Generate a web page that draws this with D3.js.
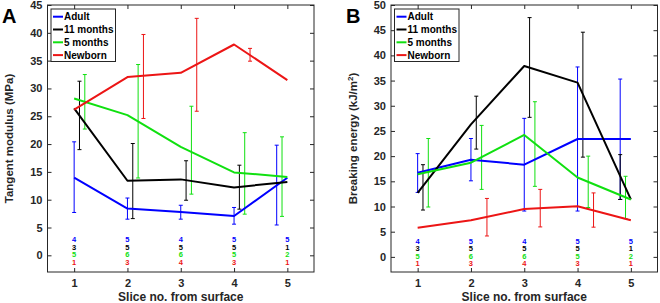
<!DOCTYPE html>
<html>
<head>
<meta charset="utf-8">
<script src="https://cdn.jsdelivr.net/npm/d3@7/dist/d3.min.js"></script>
<style>
  body { margin: 0; background: #fff; }
  svg text { font-family: "Liberation Sans", Arial, sans-serif; font-weight: bold; }
</style>
</head>
<body>
<svg id="chart" width="660" height="303"></svg>
<script>
"use strict"

// ---- data ----
const slices = [1, 2, 3, 4, 5];
const groups = ["Adult", "11 months", "5 months", "Newborn"];
const groupColors = ["#0000ff", "#000000", "#10e010", "#ec1515"];

// sample sizes per slice (same for both panels)
const nAdult = [4, 5, 4, 5, 5];
const n11 = [3, 5, 5, 5, 1];
const n5 = [5, 6, 6, 5, 2];
const nNew = [1, 3, 4, 3, 1];

// panel A: tangent modulus (MPa)
const modAdult = [13.95, 8.4, 7.8, 7.07, 13.95];
const mod11 = [26.4, 13.4, 13.65, 12.2, 13.2];
const mod5 = [28.2, 25.2, 19.5, 14.9, 14.1];
const modNew = [26.2, 32.05, 32.8, 37.9, 31.5];
// error bars: [slice position, low, high]
const modAdultErr = [[1, 7.7, 20.4], [2, 6.5, 10.3], [3, 6.5, 9.0], [4, 5.6, 8.6], [4.8, 5.45, 19.8]];
const mod11Err = [[1.1, 19.0, 31.3], [2.1, 6.6, 20.1], [3.1, 9.9, 17.0], [4.1, 8.3, 16.2]];
const mod5Err = [[1.2, 22.7, 32.5], [2.2, 13.9, 34.3], [3.2, 11.0, 26.8], [4.2, 7.4, 22.05], [4.9, 7.0, 21.3]];
const modNewErr = [[2.3, 24.6, 39.7], [3.3, 25.9, 42.6], [4.3, 34.9, 37.2]];

// panel B: breaking energy (kJ/m2)
const enAdult = [16.7, 19.3, 18.3, 23.4, 23.4];
const en11 = [12.7, 26.3, 37.9, 34.6, 11.4];
const en5 = [16.4, 18.7, 24.2, 15.75, 11.4];
const enNew = [5.8, 7.27, 9.5, 10.05, 7.27];
const enAdultErr = [[1, 12.8, 20.5], [2, 15.1, 23.5], [3, 9.1, 27.5], [4, 9.1, 37.7], [4.8, 11.4, 35.3]];
const en11Err = [[1.1, 9.3, 18.3], [2.1, 21.4, 31.9], [3.1, 27.7, 47.5], [4.1, 19.8, 44.6], [4.8, 11.4, 20.3]];
const en5Err = [[1.2, 9.9, 23.5], [2.2, 13.4, 26.1], [3.2, 14.0, 30.8], [4.2, 9.8, 20.0], [4.9, 7.6, 16.0]];
const enNewErr = [[2.3, 4.15, 11.6], [3.3, 5.95, 13.4], [4.3, 5.9, 12.7]];

const counts = [nAdult, n11, n5, nNew];

const svg = d3.select("#chart");

// ---- one panel ----
function drawPanel(opts) {
    let x = d3.scaleLinear().domain([0.5, 5.5]).range([opts.left, opts.right]);
    let y = d3.scaleLinear().domain(opts.yDomain).range([opts.bottom, opts.top]);

    let g = svg.append("g");

    // ticks pointing inward on all four sides
    g.append("g")
        .attr("transform", "translate(" + opts.left + ",0)")
        .call(d3.axisLeft(y).tickValues(opts.yTicks).tickSize(-4).tickPadding(5))
        .call(styleAxis);
    g.append("g")
        .attr("transform", "translate(" + opts.right + ",0)")
        .call(d3.axisRight(y).tickValues(opts.yTicks).tickSize(-4).tickFormat(""))
        .call(styleAxis);
    g.append("g")
        .attr("transform", "translate(0," + opts.bottom + ")")
        .call(d3.axisBottom(x).tickValues(slices).tickFormat(d3.format("d")).tickSize(-4).tickPadding(7))
        .call(styleAxis);
    g.append("g")
        .attr("transform", "translate(0," + opts.top + ")")
        .call(d3.axisTop(x).tickValues(slices).tickSize(-4).tickFormat(""))
        .call(styleAxis);

    g.append("rect")
        .attr("x", opts.left)
        .attr("y", opts.top)
        .attr("width", opts.right - opts.left)
        .attr("height", opts.bottom - opts.top)
        .style("fill", "none")
        .style("stroke", "#262626")
        .style("stroke-width", 1);

    // error bars
    opts.errs.forEach(function(errList, gi) {
        let eg = g.append("g").style("stroke", groupColors[gi]).style("stroke-width", 1);
        errList.forEach(function(e) {
            let px = x(e[0]);
            eg.append("line")
                .attr("x1", px).attr("x2", px)
                .attr("y1", y(e[1])).attr("y2", y(e[2]));
            eg.append("line")
                .attr("x1", px - 2).attr("x2", px + 2)
                .attr("y1", y(e[1])).attr("y2", y(e[1]));
            eg.append("line")
                .attr("x1", px - 2).attr("x2", px + 2)
                .attr("y1", y(e[2])).attr("y2", y(e[2]));
        });
    });

    // mean lines
    let line = d3.line()
        .x((d, i) => x(slices[i]))
        .y(d => y(d));

    opts.series.forEach(function(vals, gi) {
        g.append("path")
            .attr("d", line(vals))
            .style("fill", "none")
            .style("stroke", groupColors[gi])
            .style("stroke-width", 2)
            .style("stroke-linejoin", "round");
    });

    // sample size labels under each slice
    let countOffsets = [-13, -5.5, 2, 9.5];
    counts.forEach(function(nList, gi) {
        nList.forEach(function(n, i) {
            g.append("text")
                .attr("x", x(slices[i]))
                .attr("y", y(0) + countOffsets[gi])
                .attr("text-anchor", "middle")
                .style("font-size", "7.5px")
                .style("fill", groupColors[gi])
                .text(n);
        });
    });

    // legend
    let lg = g.append("g").attr("transform", "translate(" + (opts.left + 3.5) + "," + (opts.top + 4) + ")");
    lg.append("rect")
        .attr("width", 64.5)
        .attr("height", 52.5)
        .style("fill", "#fff")
        .style("stroke", "#262626")
        .style("stroke-width", 1);
    groups.forEach(function(name, gi) {
        let cy = 7.7 + gi * 12.8;
        lg.append("line")
            .attr("x1", 2).attr("x2", 12)
            .attr("y1", cy).attr("y2", cy)
            .style("stroke", groupColors[gi])
            .style("stroke-width", 2);
        lg.append("text")
            .attr("x", 13)
            .attr("y", cy + 3.6)
            .style("font-size", "10px")
            .style("fill", "#000")
            .text(name);
    });

    // axis titles
    svg.append("text")
        .attr("x", (opts.left + opts.right) / 2)
        .attr("y", 301)
        .attr("text-anchor", "middle")
        .style("font-size", "12px")
        .style("fill", "#262626")
        .text("Slice no. from surface");

    let yl = svg.append("text")
        .attr("transform", "translate(" + opts.yLabelX + "," + ((opts.top + opts.bottom) / 2) + ") rotate(-90)")
        .attr("text-anchor", "middle")
        .style("font-size", "11.5px")
        .style("fill", "#262626");
    opts.yLabel(yl);

    svg.append("text")
        .attr("x", opts.letterX)
        .attr("y", 23)
        .style("font-size", "20px")
        .style("fill", "#000")
        .text(opts.letter);
}

function styleAxis(sel) {
    sel.select(".domain").remove();
    sel.selectAll(".tick line").style("stroke", "#262626");
    sel.selectAll(".tick text")
        .style("font-size", "11px")
        .style("font-family", "'Liberation Sans', Arial, sans-serif")
        .style("font-weight", "bold")
        .style("fill", "#262626");
}

drawPanel({
    left: 47.5, right: 314, top: 5, bottom: 272,
    yDomain: [-3, 45],
    yTicks: d3.range(0, 46, 5),
    series: [modAdult, mod11, mod5, modNew],
    errs: [modAdultErr, mod11Err, mod5Err, modNewErr],
    yLabelX: 13,
    yLabel: t => t.text("Tangent modulus (MPa)"),
    letter: "A",
    letterX: 2
});

drawPanel({
    left: 391, right: 657.5, top: 5, bottom: 272,
    yDomain: [-3, 50],
    yTicks: d3.range(0, 51, 5),
    series: [enAdult, en11, en5, enNew],
    errs: [enAdultErr, en11Err, en5Err, enNewErr],
    yLabelX: 357,
    yLabel: function(t) {
        t.append("tspan").text("Breaking energy (kJ/m");
        t.append("tspan").attr("dy", -4).style("font-size", "8px").text("2");
        t.append("tspan").attr("dy", 4).text(")");
    },
    letter: "B",
    letterX: 346
});
</script>
</body>
</html>
